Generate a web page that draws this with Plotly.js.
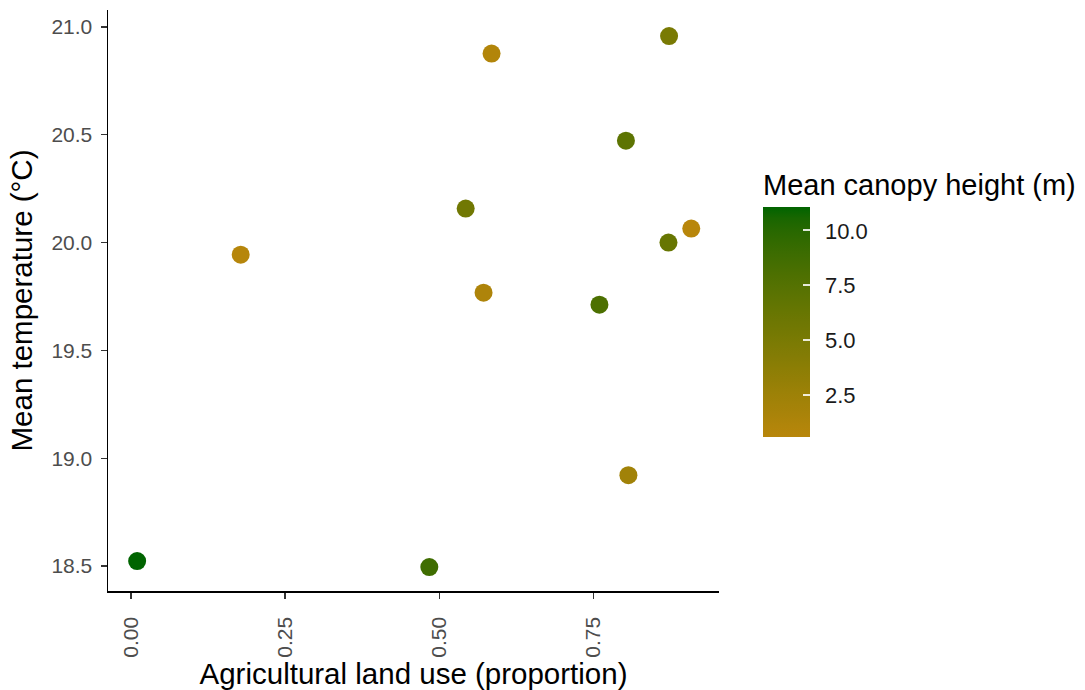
<!DOCTYPE html>
<html>
<head>
<meta charset="utf-8">
<script src="https://cdn.plot.ly/plotly-3.0.1.min.js"></script>
<style>
  html, body { margin: 0; padding: 0; background: #fff; }
  #chart { width: 1085px; height: 690px; }
</style>
</head>
<body>
<div id="chart"></div>
<script>
// Site-level measurements
const agriculturalUse = [0.010, 0.178, 0.484, 0.543, 0.572, 0.585, 0.760, 0.803, 0.807, 0.872, 0.873, 0.909];
const meanTemperature = [18.523, 19.944, 18.495, 20.158, 19.768, 20.877, 19.712, 20.473, 18.921, 20.000, 20.958, 20.065];
const canopyHeight    = [11.05, 0.70, 8.8, 5.6, 1.3, 1.0, 8.0, 6.9, 2.2, 6.3, 5.0, 0.58];

const xTickValues = [0, 0.25, 0.5, 0.75];
const yTickValues = [18.5, 19.0, 19.5, 20.0, 20.5, 21.0];
const colorTickValues = [2.5, 5.0, 7.5, 10.0];

// Two-colour gradient interpolated in CIELAB space (goldenrod -> dark green)
function hexToRgb(h) {
  return [1, 3, 5].map(i => parseInt(h.substr(i, 2), 16) / 255);
}
function toLinear(c) { return c <= 0.04045 ? c / 12.92 : Math.pow((c + 0.055) / 1.055, 2.4); }
function fromLinear(c) { return c <= 0.0031308 ? 12.92 * c : 1.055 * Math.pow(c, 1 / 2.4) - 0.055; }
const WHITE = [0.95047, 1.0, 1.08883];
function rgbToLab(rgb) {
  const [r, g, b] = rgb.map(toLinear);
  const X = 0.4124564 * r + 0.3575761 * g + 0.1804375 * b;
  const Y = 0.2126729 * r + 0.7151522 * g + 0.0721750 * b;
  const Z = 0.0193339 * r + 0.1191920 * g + 0.9503041 * b;
  const f = t => t > 216 / 24389 ? Math.cbrt(t) : (24389 / 27 * t + 16) / 116;
  const fx = f(X / WHITE[0]), fy = f(Y / WHITE[1]), fz = f(Z / WHITE[2]);
  return [116 * fy - 16, 500 * (fx - fy), 200 * (fy - fz)];
}
function labToRgb(lab) {
  const [L, a, bb] = lab;
  const fy = (L + 16) / 116, fx = fy + a / 500, fz = fy - bb / 200;
  const inv = t => t * t * t > 216 / 24389 ? t * t * t : (116 * t - 16) / (24389 / 27);
  const X = inv(fx) * WHITE[0], Y = inv(fy) * WHITE[1], Z = inv(fz) * WHITE[2];
  const r = 3.2404542 * X - 1.5371385 * Y - 0.4985314 * Z;
  const g = -0.9692660 * X + 1.8760108 * Y + 0.0415560 * Z;
  const b = 0.0556434 * X - 0.2040259 * Y + 1.0572252 * Z;
  return [r, g, b].map(c => Math.round(Math.min(1, Math.max(0, fromLinear(c))) * 255));
}
function labScale(lowHex, highHex, n) {
  const lo = rgbToLab(hexToRgb(lowHex)), hi = rgbToLab(hexToRgb(highHex));
  const out = [];
  for (let i = 0; i < n; i++) {
    const t = i / (n - 1);
    const rgb = labToRgb(lo.map((v, k) => v + (hi[k] - v) * t));
    out.push([t, 'rgb(' + rgb.join(',') + ')']);
  }
  return out;
}
const gradient = labScale('#B8860B', '#006400', 21);
const clearScale = [[0, 'rgba(0,0,0,0)'], [1, 'rgba(0,0,0,0)']];

const FONT = 'Liberation Sans, Arial, sans-serif';

// Shared colour bar placement
const barCommon = {
  thickness: 47,
  lenmode: 'pixels',
  x: 1.0703,
  xanchor: 'left',
  y: 0.265,
  yanchor: 'bottom',
  xpad: 0,
  ypad: 0,
  outlinewidth: 0,
  tickvals: colorTickValues,
  tickformat: '.1f'
};

// Visible points with the gradient bar, its title and white inner ticks
const points = {
  type: 'scatter',
  mode: 'markers',
  x: agriculturalUse,
  y: meanTemperature,
  marker: {
    size: 18,
    color: canopyHeight,
    colorscale: gradient,
    line: { width: 0 },
    showscale: true,
    colorbar: Object.assign({}, barCommon, {
      title: { text: 'Mean canopy height (m)', side: 'top', font: { family: FONT, size: 29, color: '#000' } },
      len: 267,
      ticks: 'inside',
      ticklen: 7,
      tickwidth: 1.5,
      tickcolor: 'rgba(255,255,255,0.85)',
      showticklabels: false
    })
  },
  hoverinfo: 'x+y'
};

// Transparent companion scale carrying the bar's tick labels
const scaleLabels = {
  type: 'scatter',
  mode: 'markers',
  x: agriculturalUse,
  y: meanTemperature,
  marker: {
    size: 18,
    opacity: 0,
    color: canopyHeight,
    colorscale: clearScale,
    showscale: true,
    colorbar: Object.assign({}, barCommon, {
      len: 229,
      ticks: 'outside',
      ticklen: 11,
      tickcolor: 'rgba(0,0,0,0)',
      tickfont: { family: FONT, size: 22, color: '#1a1a1a' }
    })
  },
  hoverinfo: 'skip'
};

const axisCommon = {
  showgrid: false,
  zeroline: false,
  showline: true,
  linecolor: '#000',
  linewidth: 1.5,
  ticks: 'outside',
  ticklen: 6,
  tickwidth: 1.3,
  tickcolor: '#333',
  tickfont: { family: FONT, size: 21, color: '#4D4D4D' }
};

const layout = {
  width: 1085,
  height: 690,
  margin: { l: 108, r: 365, t: 10, b: 99 },
  paper_bgcolor: '#fff',
  plot_bgcolor: '#fff',
  showlegend: false,
  font: { family: FONT },
  xaxis: Object.assign({}, axisCommon, {
    range: [-0.0373, 0.954],
    tickvals: xTickValues,
    tickformat: '.2f',
    tickangle: -90,
    ticklabelstandoff: 10,
    title: { text: 'Agricultural land use (proportion)', font: { family: FONT, size: 29.5, color: '#000' }, standoff: 4 }
  }),
  yaxis: Object.assign({}, axisCommon, {
    range: [18.384, 21.079],
    tickvals: yTickValues,
    tickformat: '.1f',
    ticklabelstandoff: 4,
    title: { text: 'Mean temperature (°C)', font: { family: FONT, size: 29.5, color: '#000' }, standoff: 10 }
  })
};

Plotly.newPlot('chart', [points, scaleLabels], layout, { displayModeBar: false, staticPlot: true });
</script>
</body>
</html>
